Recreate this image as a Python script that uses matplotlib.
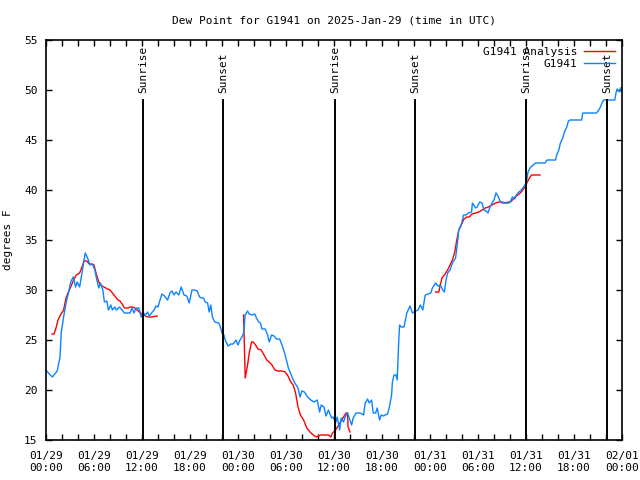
import numpy as np
import matplotlib
matplotlib.use("Agg")
import matplotlib.pyplot as plt

# hours since 2025-01-29 00:00 UTC
obs_hours = [0.0, 0.3, 0.8, 1.1, 1.4, 1.75, 1.9, 2.2, 2.5, 2.8, 3.1, 3.4, 3.7, 3.9, 4.2, 4.5,
             4.7, 4.9, 5.2, 5.5, 5.8, 6.1, 6.3, 6.6, 6.8, 7.1, 7.3, 7.6, 7.8, 8.1, 8.3, 8.6,
             8.8, 9.2, 9.5, 9.8, 10.2, 10.5, 10.75, 11.0, 11.25, 11.6, 11.9, 12.2, 12.4, 12.7,
             12.9, 13.2, 13.5, 13.75, 14.0, 14.25, 14.5, 14.8, 15.2, 15.5, 15.75, 16.0, 16.25,
             16.6, 16.9, 17.25, 17.6, 17.9, 18.25, 18.6, 18.9, 19.2, 19.4, 19.7, 19.9, 20.2,
             20.4, 20.6, 20.8, 21.1, 21.6, 21.8, 22.0, 22.25, 22.4, 22.75, 23.1, 23.4, 23.75,
             24.0, 24.25, 24.5, 24.7, 24.9, 25.2, 25.4, 25.75, 26.1, 26.3, 26.6, 26.8, 27.0,
             27.4, 27.7, 27.9, 28.2, 28.5, 28.8, 29.2, 29.5, 29.9, 30.3, 30.75, 31.1, 31.5,
             31.75, 32.0, 32.3, 32.7, 33.1, 33.5, 33.9, 34.2, 34.4, 34.75, 35.0, 35.3, 35.7,
             35.9, 36.2, 36.4, 36.7, 36.9, 37.2, 37.4, 37.7, 37.9, 38.2, 38.4, 38.75, 39.2,
             39.5, 39.7, 39.9, 40.2, 40.4, 40.7, 40.9, 41.2, 41.4, 41.7, 41.9, 42.2, 42.4,
             42.7, 42.9, 43.2, 43.3, 43.5, 43.75, 43.9, 44.1, 44.2, 44.4, 44.75, 45.1, 45.5,
             45.8, 46.2, 46.5, 46.8, 47.1, 47.4, 47.75, 48.1, 48.3, 48.7, 49.0, 49.3, 49.6,
             49.8, 50.0, 50.2, 50.5, 50.8, 51.2, 51.4, 51.6, 51.9, 52.2, 52.5, 52.8, 53.2,
             53.3, 53.7, 53.9, 54.2, 54.5, 54.75, 55.0, 55.25, 55.5, 55.75, 56.0, 56.25, 56.5,
             56.75, 57.0, 57.3, 57.7, 58.0, 58.3, 58.6, 58.8, 59.1, 59.3, 59.7, 60.0, 60.1,
             60.25, 60.5, 60.75, 61.2, 62.4, 62.6, 63.7, 63.8, 64.1, 64.3, 64.6, 64.8, 65.1,
             65.3, 65.5, 66.95, 67.1, 68.8, 69.1, 69.3, 69.5, 69.7, 71.1, 71.25, 71.4, 71.7,
             71.8, 72.0]
obs_dewpt = [22.0, 21.7, 21.3, 21.6, 21.9, 23.3, 25.7, 27.3, 28.7, 29.7, 30.8, 31.3, 30.3, 30.8,
             30.3, 31.7, 32.7, 33.7, 33.2, 32.5, 32.6, 32.0, 31.2, 30.2, 30.7, 30.0, 28.8, 28.9,
             28.0, 28.5, 28.0, 28.3, 28.0, 28.3, 28.0, 27.7, 27.7, 27.7, 28.2, 27.7, 28.2, 28.2,
             27.3, 27.7, 27.5, 27.8, 27.4, 27.7, 28.0, 28.4, 28.3, 29.0, 29.6, 29.4, 29.0, 29.7,
             29.9, 29.5, 29.8, 29.5, 30.3, 29.5, 29.4, 28.7, 30.0, 30.0, 29.9, 29.3, 29.2, 29.2,
             28.8, 28.7, 27.8, 28.5, 27.3, 26.8, 26.7, 26.3, 25.7, 25.5, 25.0, 24.4, 24.6, 24.6,
             25.0, 24.5, 25.0, 25.3, 25.7, 27.5, 27.9, 27.6, 27.5, 27.6, 27.2, 26.8, 26.7, 26.1,
             26.1, 25.5, 24.8, 25.5, 25.4, 25.1, 25.1, 24.5, 23.5, 22.2, 21.3, 20.7, 20.2, 19.3,
             19.9, 19.8, 19.3, 19.0, 18.8, 19.0, 17.8, 18.5, 18.3, 17.4, 18.0, 17.2, 17.3, 16.7,
             17.3, 16.0, 17.2, 16.8, 17.3, 17.7, 17.2, 16.5, 17.2, 17.7, 17.7, 17.6, 17.5, 18.7,
             19.1, 18.7, 19.0, 17.7, 17.7, 18.2, 17.0, 17.5, 17.4, 17.5, 17.6, 18.2, 19.5, 20.8,
             21.5, 21.5, 21.0, 25.0, 26.5, 26.3, 26.3, 27.7, 28.4, 27.7, 27.9, 28.0, 28.5, 28.0,
             29.5, 29.6, 29.7, 30.2, 30.7, 30.4, 30.5, 30.0, 29.8, 31.0, 31.7, 32.0, 32.7, 33.2,
             34.5, 36.0, 36.5, 37.5, 37.5, 37.7, 37.8, 38.7, 38.2, 38.3, 38.8, 38.7, 38.0, 37.9,
             37.7, 38.3, 38.7, 39.0, 39.7, 39.4, 38.9, 38.7, 38.7, 38.8, 38.8, 39.3, 39.1, 39.5,
             39.8, 39.9, 40.3, 40.7, 41.0, 41.8, 42.2, 42.4, 42.7, 42.7, 43.0, 43.0, 43.4, 44.0,
             44.7, 45.2, 45.8, 46.3, 46.9, 47.0, 47.0, 47.7, 47.7, 48.0, 48.3, 48.7, 49.0, 49.0,
             49.7, 50.1, 49.8, 50.2, 50.2]

# analysis runs (separate segments)
ana1_hours = [0.75, 1.0, 1.25, 1.5, 1.8, 2.2, 2.5, 2.8, 3.2, 3.5, 3.8, 4.2, 4.5, 4.75, 5.1, 5.4,
              5.75, 6.0, 6.25, 6.6, 6.8, 7.25, 7.7, 8.0, 8.3, 8.7, 9.0, 9.25, 9.6, 9.8, 10.25,
              10.5, 10.8, 11.1, 11.4, 11.8, 12.2, 12.7, 13.2, 13.9]
ana1_dewpt = [25.6, 25.6, 26.2, 27.0, 27.5, 28.0, 29.2, 29.8, 30.5, 31.1, 31.5, 31.7, 32.3, 32.9,
              32.9, 32.6, 32.6, 32.5, 31.7, 30.8, 30.5, 30.3, 30.1, 30.0, 29.7, 29.3, 29.0, 28.9,
              28.5, 28.2, 28.2, 28.3, 28.3, 28.2, 28.0, 27.7, 27.5, 27.3, 27.3, 27.4]
ana2_hours = [24.7, 24.9, 25.2, 25.4, 25.7, 25.9, 26.2, 26.5, 26.9, 27.25, 27.6, 27.9, 28.25, 28.6,
              29.0, 29.5, 29.9, 30.25, 30.6, 30.9, 31.2, 31.5, 31.8, 32.2, 32.6, 33.0, 33.4, 33.8,
              34.3, 34.8, 35.3, 35.6, 35.8, 36.2, 36.5, 36.8, 37.2, 37.5, 37.7, 37.75, 38.0]
ana2_dewpt = [27.5, 21.2, 22.5, 23.7, 24.8, 24.8, 24.5, 24.1, 24.0, 23.5, 23.0, 22.8, 22.5, 22.0,
              21.9, 21.9, 21.8, 21.4, 20.8, 20.5, 19.7, 18.3, 17.5, 17.0, 16.2, 15.8, 15.5, 15.3,
              15.5, 15.5, 15.5, 15.3, 15.7, 16.0, 16.4, 16.8, 17.3, 17.7, 17.7, 16.3, 15.8]
ana3_hours = [48.7, 49.1, 49.25, 49.5, 49.8, 50.2, 50.5, 50.8, 51.1, 51.3, 51.6, 51.9, 52.25, 52.6,
              52.9, 53.25, 53.7, 54.1, 54.5, 54.9, 55.3, 55.75, 56.2, 56.6, 57.0, 57.4, 57.8,
              58.2, 58.6, 59.0, 59.4, 59.8, 60.1, 60.3, 60.5, 60.7, 61.75]
ana3_dewpt = [29.8, 29.8, 30.4, 31.2, 31.5, 32.0, 32.5, 33.0, 33.8, 34.8, 36.0, 36.5, 37.1, 37.3,
              37.3, 37.6, 37.7, 37.8, 38.0, 38.2, 38.3, 38.5, 38.7, 38.8, 38.8, 38.7, 38.7, 38.9,
              39.3, 39.5, 39.8, 40.2, 40.7, 41.0, 41.3, 41.5, 41.5]

sun_hours = [12.1, 22.1, 36.1, 46.1, 60.0, 70.15]
sun_labels = ["Sunrise", "Sunset", "Sunrise", "Sunset", "Sunrise", "Sunset"]

tick_labels = ["01/29\n00:00", "01/29\n06:00", "01/29\n12:00", "01/29\n18:00",
               "01/30\n00:00", "01/30\n06:00", "01/30\n12:00", "01/30\n18:00",
               "01/31\n00:00", "01/31\n06:00", "01/31\n12:00", "01/31\n18:00",
               "02/01\n00:00"]

plt.rcParams['font.family'] = ['DejaVu Sans Mono']
plt.rcParams['font.size'] = 7.5

fig = plt.figure(figsize=(6.4, 4.8), dpi=100)
ax = fig.add_axes([46/640, 40/480, 576/640, 400/480])

blue = '#0a84ff'
red = '#ff0000'

ax.plot(ana1_hours, ana1_dewpt, color=red, lw=1.0, label="G1941 Analysis")
ax.plot(ana2_hours, ana2_dewpt, color=red, lw=1.0)
ax.plot(ana3_hours, ana3_dewpt, color=red, lw=1.0)
ax.plot(obs_hours, obs_dewpt, color=blue, lw=1.0, label="G1941")

for h, lab in zip(sun_hours, sun_labels):
    ax.plot([h, h], [15, 49], color='black', lw=1.4)
    ax.text(h, 49.7, lab, rotation=90, ha='center', va='bottom', fontsize=8)

ax.set_xlim(0, 72)
ax.set_ylim(15, 55)
ax.set_xticks(np.arange(0, 73, 6))
ax.set_xticklabels(tick_labels)
ax.set_xticks(np.arange(0, 73, 2), minor=True)
ax.set_yticks(np.arange(15, 56, 5))
ax.tick_params(which='both', direction='in', top=True, right=True, length=4, width=1)
ax.tick_params(axis='both', labelsize=8)
ax.tick_params(axis='x', pad=8)
ax.tick_params(axis='y', pad=6)
for s in ax.spines.values():
    s.set_linewidth(1.2)

ax.set_title("Dew Point for G1941 on 2025-Jan-29 (time in UTC)", fontsize=8, pad=12)
ax.set_ylabel("degrees F", fontsize=8, labelpad=8)

leg = ax.legend(loc='upper right', frameon=False, markerfirst=False, fontsize=8,
                handlelength=2.8, borderaxespad=0.3, labelspacing=0.2, handletextpad=0.6,
                borderpad=0.3)

fig.savefig("out.png", dpi=100)
